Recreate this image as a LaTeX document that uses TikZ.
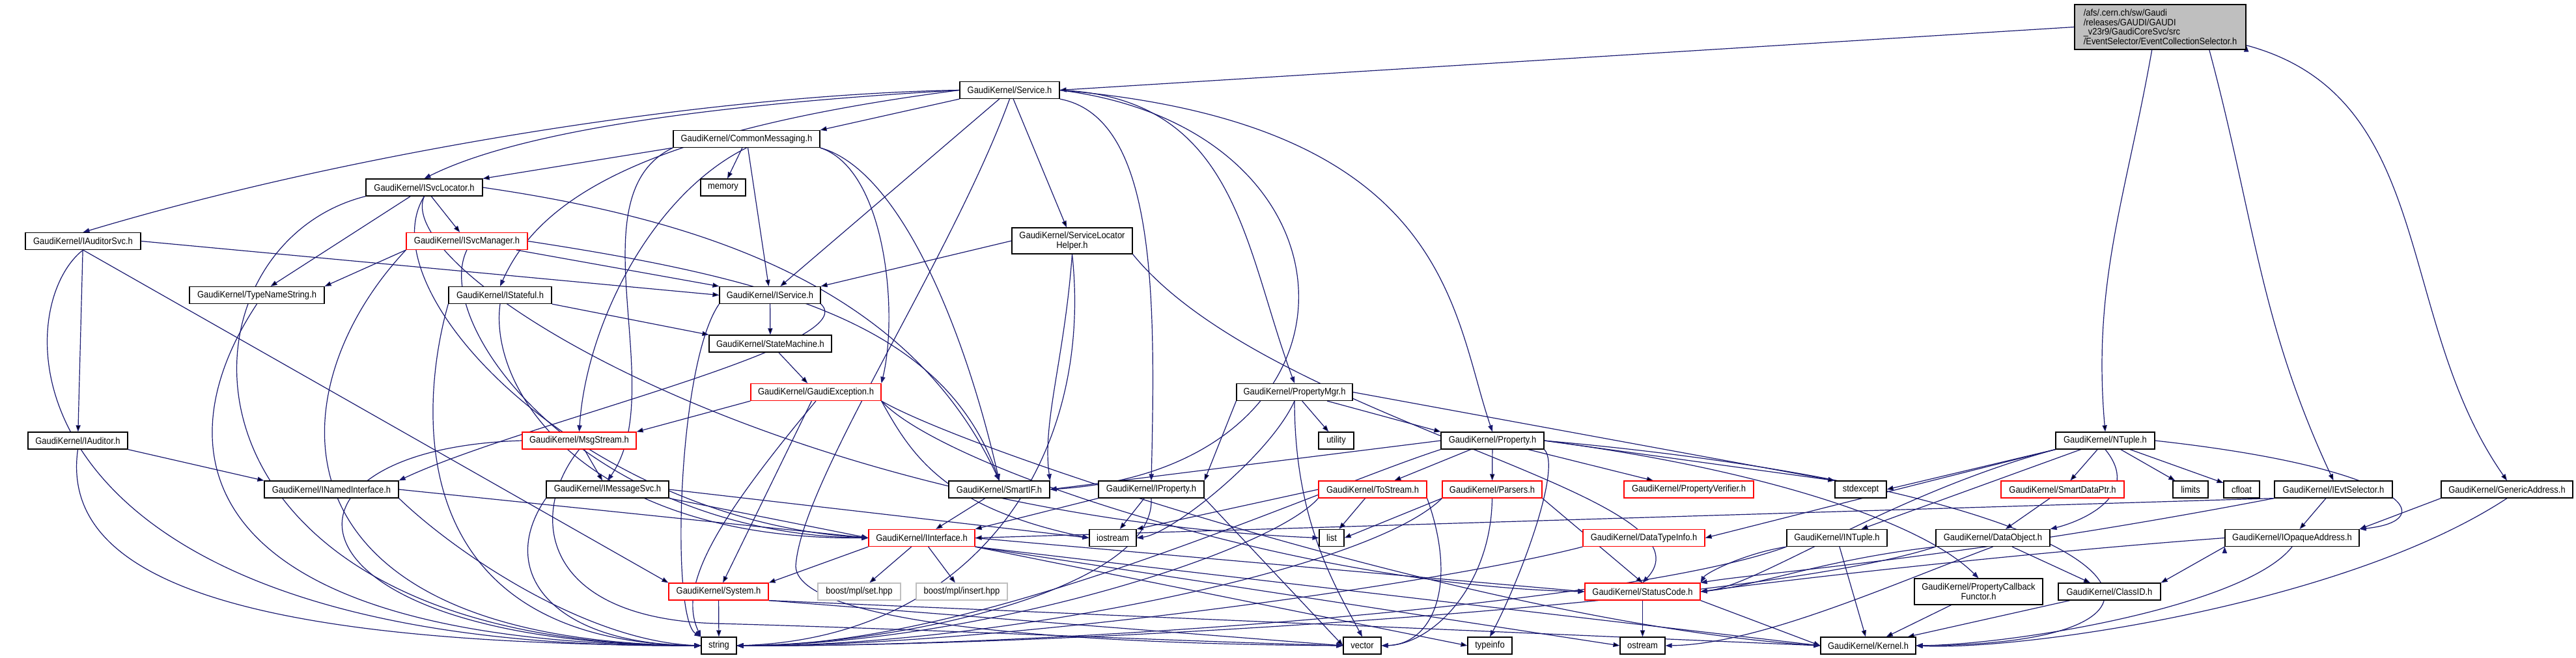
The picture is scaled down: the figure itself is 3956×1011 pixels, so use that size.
\documentclass[tikz,border=0pt]{standalone}
\usepackage{fontspec}
\usepackage{xcolor}
\usepackage{tikz}
\usetikzlibrary{arrows.meta}
\newfontfamily\gkfont[FakeStretch=0.9]{Liberation Sans}
\definecolor{edgeblue}{HTML}{191970}
\definecolor{truncred}{HTML}{FF0000}
\definecolor{bggray}{HTML}{BFBFBF}
\pgfdeclarelayer{edges}
\pgfsetlayers{edges,main}

\begin{document}
\begin{tikzpicture}[x=0.5pt, y=-0.5pt,
    file/.style={draw=black, line width=0.6pt, fill=white, font=\gkfont\fontsize{7.2}{7.35}\selectfont,
      minimum height=13pt, inner sep=1pt, minimum width=#1*0.5pt},
    file/.default=60,
    trunc/.style={file=#1, draw=truncred},
    ext/.style={file=#1, draw=bggray},
    mainfile/.style={file=#1, fill=bggray, align=left, minimum height=34.5pt},
    twoline/.style={file=#1, align=center, minimum height=20pt},
    dep/.style={draw=edgeblue, line width=0.6pt, -{Triangle[length=5pt,width=3.6pt]}}]
\useasboundingbox (0,0) rectangle (3956,1011);

% the file and its includes
\node[mainfile=263] (main) at (3317.5,41.5) {/afs/.cern.ch/sw/Gaudi\\/releases/GAUDI/GAUDI\\\_v23r9/GaudiCoreSvc/src\\/EventSelector/EventCollectionSelector.h};
\node[file=153] (svc) at (1550.5,138.5) {GaudiKernel/Service.h};
\node[file=225] (commsg) at (1146.5,213.5) {GaudiKernel/CommonMessaging.h};
\node[file=179] (isvcloc) at (651.5,288) {GaudiKernel/ISvcLocator.h};
\node[file=69] (memory) at (1110.5,288) {memory};
\node[file=177] (iaudsvc) at (127.5,370.5) {GaudiKernel/IAuditorSvc.h};
\node[trunc=186] (isvcmgr) at (717,370.5) {GaudiKernel/ISvcManager.h};
\node[twoline=185] (slh) at (1646.5,370) {GaudiKernel/ServiceLocator\\Helper.h};
\node[file=207] (typename) at (394.5,453.5) {GaudiKernel/TypeNameString.h};
\node[file=158] (istateful) at (768,453.5) {GaudiKernel/IStateful.h};
\node[file=155] (iservice) at (1182.5,453.5) {GaudiKernel/IService.h};
\node[file=188] (statemach) at (1183,528) {GaudiKernel/StateMachine.h};
\node[trunc=200] (gaudiexc) at (1253,602.5) {GaudiKernel/GaudiException.h};
\node[file=178] (propmgr) at (1988,602.5) {GaudiKernel/PropertyMgr.h};
\node[file=153] (iauditor) at (119.5,677) {GaudiKernel/IAuditor.h};
\node[trunc=175] (msgstream) at (889.5,677) {GaudiKernel/MsgStream.h};
\node[file=54] (utility) at (2052,677) {utility};
\node[file=158] (property) at (2292,677) {GaudiKernel/Property.h};
\node[file=152] (ntuple) at (3233,677) {GaudiKernel/NTuple.h};
\node[file=206] (inamed) at (509,752) {GaudiKernel/INamedInterface.h};
\node[file=188] (imsgsvc) at (933,752) {GaudiKernel/IMessageSvc.h};
\node[file=155] (smartif) at (1534.5,752) {GaudiKernel/SmartIF.h};
\node[file=162] (iprop) at (1768,752) {GaudiKernel/IProperty.h};
\node[trunc=166] (tostream) at (2108,752) {GaudiKernel/ToStream.h};
\node[trunc=153] (parsers) at (2291.5,752) {GaudiKernel/Parsers.h};
\node[trunc=199] (propverif) at (2593.5,752) {GaudiKernel/PropertyVerifier.h};
\node[file=79] (stdexcept) at (2857.5,752) {stdexcept};
\node[trunc=189] (smartdptr) at (3167.5,752) {GaudiKernel/SmartDataPtr.h};
\node[file=54] (limits) at (3364,752) {limits};
\node[file=55] (cfloat) at (3442.5,752) {cfloat};
\node[file=181] (ievtsel) at (3583.5,752) {GaudiKernel/IEvtSelector.h};
\node[file=202] (genaddr) at (3850,752) {GaudiKernel/GenericAddress.h};
\node[trunc=163] (iintf) at (1415.5,826.5) {GaudiKernel/IInterface.h};
\node[file=72] (iostream) at (1709,826.5) {iostream};
\node[file=38] (list) at (2045,826.5) {list};
\node[trunc=187] (dtinfo) at (2524.5,826.5) {GaudiKernel/DataTypeInfo.h};
\node[file=154] (intuple) at (2821,826.5) {GaudiKernel/INTuple.h};
\node[file=175] (dataobj) at (3060.5,826.5) {GaudiKernel/DataObject.h};
\node[file=206] (iopaque) at (3520,826.5) {GaudiKernel/IOpaqueAddress.h};
\node[trunc=153] (system) at (1103.5,909) {GaudiKernel/System.h};
\node[ext=127] (mplset) at (1319.5,909) {boost/mpl/set.hpp};
\node[ext=140] (mplinsert) at (1477,909) {boost/mpl/insert.hpp};
\node[trunc=177] (statcode) at (2522.5,909) {GaudiKernel/StatusCode.h};
\node[twoline=197] (propcb) at (3038.5,909) {GaudiKernel/PropertyCallback\\Functor.h};
\node[file=157] (classid) at (3239.5,909) {GaudiKernel/ClassID.h};
\node[file=54] (string) at (1104,992) {string};
\node[file=58] (vector) at (2092,992) {vector};
\node[file=68] (typeinfo) at (2288,992) {typeinfo};
\node[file=69] (ostream) at (2522.5,992) {ostream};
\node[file=146] (kernel) at (2869,992) {GaudiKernel/Kernel.h};

\begin{pgfonlayer}{edges}
% straight includes
\path[dep]
  (main.west) edge (svc.east)
  (svc.south west) edge (commsg.north east)
  (svc) edge (iservice)
  (svc) edge (slh)
  (commsg.south west) edge (isvcloc.north east)
  (commsg) edge (memory)
  (commsg) edge (iservice)
  (isvcloc) edge (isvcmgr)
  (isvcloc) edge (typename)
  (isvcmgr.south west) edge (typename.north east)
  (isvcmgr) edge (iservice.north west)
  (iaudsvc.east) edge (iservice.west)
  (iaudsvc) edge (iauditor)
  (iaudsvc.south) edge (system.north west)
  (iauditor.south east) edge (inamed.north west)
  (inamed.east) edge (iintf.west)
  (istateful.south east) edge (statemach.north west)
  (iservice) edge (statemach)
  (statemach) edge (gaudiexc)
  (gaudiexc.south west) edge (msgstream.north east)
  (gaudiexc) edge (system)
  (msgstream) edge (imsgsvc)
  (imsgsvc.south east) edge (iintf.west)
  (imsgsvc.east) edge (iostream.west)
  (slh.west) edge (iservice.north east)
  (smartif) edge (iintf)
  (iprop.south west) edge (iintf.north east)
  (iprop) edge (iostream)
  (iprop.south east) edge (vector.west)
  (propmgr.south west) edge (iprop.north east)
  (propmgr) edge (utility)
  (propmgr) edge (property.north west)
  (propmgr.east) edge (stdexcept.north west)
  (property) edge (tostream)
  (property) edge (parsers)
  (property) edge (propverif)
  (property.east) edge (stdexcept.north west)
  (property.west) edge (smartif.east)
  (tostream) edge (list)
  (tostream.west) edge (iostream.north east)
  (parsers.south west) edge (list.east)
  (parsers.south east) edge (statcode.north)
  (statcode) edge (ostream)
  (statcode.south east) edge (kernel.west)
  (iintf.south west) edge (system.north east)
  (iintf) edge (mplset)
  (iintf) edge (mplinsert)
  (iintf.south east) edge (typeinfo.west)
  (iintf.east) edge (statcode.west)
  (iintf.south east) edge (ostream.west)
  (iintf.south east) edge (kernel.west)
  (system) edge (string)
  (system.south east) edge (vector.west)
  (system.south east) edge (kernel.west)
  (ntuple.south west) edge (stdexcept.east)
  (ntuple) edge (smartdptr)
  (ntuple) edge (intuple)
  (ntuple.south west) edge (dtinfo.east)
  (ntuple) edge (limits)
  (ntuple) edge (cfloat)
  (smartdptr) edge (dataobj)
  (dataobj) edge (classid)
  (intuple) edge (kernel)
  (propcb) edge (kernel)
  (classid) edge (kernel)
  (ievtsel) edge (iopaque)
  (ievtsel.south west) edge (iintf.east)
  (genaddr.south west) edge (iopaque.north east)
  (iopaque.south west) edge (classid.north east);

% bent includes
\path[dep]
  (main.250) edge[out=-100,in=95] (ntuple.north)
  (main.-25) edge[out=-75,in=115] (ievtsel.north)
  (main.-12) edge[out=-15,in=125] (genaddr.north);
\draw[dep] (svc.west) .. controls (1100,145) and (550,230) .. (iaudsvc.north);
\draw[dep] (svc.west) .. controls (1100,160) and (800,200) .. (isvcloc.north);
\draw[dep] (svc.west) .. controls (1000,200) and (830,300) .. (istateful.north);
\draw[dep] (svc.south east) .. controls (1775,180) and (1775,450) .. (iprop.north);
\draw[dep] (svc.east) .. controls (1900,150) and (1910,380) .. (propmgr.north);
\draw[dep] (svc.east) .. controls (2229,190) and (2229,480) .. (property.north);
\draw[dep] (svc.east) .. controls (2115,200) and (2120,720) .. (smartif.east);
\draw[dep] (svc.south) .. controls (1460,400) and (1230,740) .. (1222,870) .. controls (1225,965) and (1700,990) .. (vector.west);
\draw[dep] (commsg.south) .. controls (1000,300) and (900,500) .. (msgstream.north);
\draw[dep] (commsg.south west) .. controls (880,300) and (1030,600) .. (imsgsvc.north);
\draw[dep] (commsg.south east) .. controls (1380,260) and (1480,500) .. (smartif.north);
\draw[dep] (commsg.south east) .. controls (1360,260) and (1380,480) .. (gaudiexc.north east);
\draw[dep] (isvcloc.south) .. controls (560,450) and (900,800) .. (iintf.west);
\draw[dep] (isvcloc.south) .. controls (600,420) and (1200,790) .. (list.west);
\draw[dep] (isvcloc.east) .. controls (1100,340) and (1400,450) .. (smartif.north);
\draw[dep] (isvcmgr.east) .. controls (1200,430) and (1450,500) .. (smartif.north);
\draw[dep] (isvcmgr.south) .. controls (660,500) and (900,820) .. (iintf.west);
\draw[dep] (istateful.south) .. controls (750,600) and (900,830) .. (iintf.west);
\draw[dep] (iservice.south east) .. controls (1330,530) and (800,650) .. (inamed.north east);
\draw[dep] (msgstream.south) .. controls (810,790) and (830,950) .. (1100,958) .. controls (1400,966) and (1800,985) .. (vector.west);
\draw[dep] (gaudiexc.south east) .. controls (1400,700) and (1450,780) .. (iostream.west);
\draw[dep] (gaudiexc.south east) .. controls (1450,720) and (2000,900) .. (statcode.west);
\draw[dep] (gaudiexc.south east) .. controls (1500,700) and (2300,960) .. (kernel.west);
\draw[dep] (propmgr.south) .. controls (1950,700) and (1800,820) .. (iostream.east);
\draw[dep] (propmgr.south) .. controls (1988,800) and (2050,900) .. (vector.north);
\draw[dep] (property.south east) .. controls (2400,720) and (2330,900) .. (typeinfo.north);
\draw[dep] (property.east) .. controls (2700,720) and (2950,800) .. (propcb.north);
\draw[dep] (property.east) .. controls (3300,760) and (3450,990) .. (kernel.east);
\draw[dep] (tostream.south east) .. controls (2240,900) and (2200,990) .. (vector.east);
\draw[dep] (parsers.south) .. controls (2290,900) and (2200,990) .. (vector.east);
\draw[dep] (ntuple.south west) .. controls (2900,760) and (2700,900) .. (statcode.east);
\draw[dep] (ntuple.south) .. controls (3290,760) and (3200,800) .. (dataobj.north east);
\draw[dep] (ntuple.east) .. controls (3700,720) and (3750,800) .. (iopaque.north east);
\draw[dep] (intuple.south west) .. controls (2680,850) and (2620,880) .. (statcode.north east);
\draw[dep] (dataobj.south west) .. controls (2800,860) and (2700,900) .. (statcode.east);
\draw[dep] (dataobj.south) .. controls (2900,900) and (2700,990) .. (ostream.east);
\draw[dep] (ievtsel.south west) .. controls (3000,860) and (2700,880) .. (statcode.north east);
\draw[dep] (iopaque.west) .. controls (3100,850) and (2750,890) .. (statcode.east);
\draw[dep] (iopaque.south) .. controls (3450,930) and (3100,990) .. (kernel.east);
\draw[dep] (genaddr.south) .. controls (3600,930) and (3100,1000) .. (kernel.east);
\draw[dep] (slh.south) .. controls (1635,550) and (1600,650) .. (smartif.north east);
\draw[dep] (slh.south east) .. controls (1950,650) and (2650,760) .. (statcode.north);

% everything that ends in string
\draw[dep] (iaudsvc.south) .. controls (5,480) and (0,1000) .. (string.west);
\draw[dep] (iauditor.south) .. controls (90,900) and (400,990) .. (string.west);
\draw[dep] (isvcloc.south west) .. controls (250,380) and (230,990) .. (string.west);
\draw[dep] (typename.south) .. controls (240,700) and (300,990) .. (string.west);
\draw[dep] (isvcmgr.south west) .. controls (420,600) and (400,985) .. (string.west);
\draw[dep] (istateful.south west) .. controls (650,600) and (600,985) .. (string.west);
\draw[dep] (inamed.south east) .. controls (700,850) and (900,985) .. (string.west);
\draw[dep] (msgstream.west) .. controls (380,690) and (420,990) .. (string.west);
\draw[dep] (imsgsvc.south west) .. controls (760,880) and (850,990) .. (string.west);
\draw[dep] (iservice.south west) .. controls (1040,560) and (1030,950) .. (string.north west);
\draw[dep] (gaudiexc.south) .. controls (1100,800) and (1040,900) .. (string.north west);
\draw[dep] (slh.south) .. controls (1680,700) and (1500,980) .. (string.east);
\draw[dep] (iprop.south) .. controls (1775,900) and (1400,990) .. (string.east);
\draw[dep] (property.south west) .. controls (2000,760) and (1500,995) .. (string.east);
\draw[dep] (tostream.south west) .. controls (1950,850) and (1500,990) .. (string.east);
\draw[dep] (parsers.south west) .. controls (2100,880) and (1500,995) .. (string.east);
\draw[dep] (dtinfo.south west) .. controls (2200,900) and (1500,995) .. (string.east);
\draw[dep] (intuple.south west) .. controls (2500,930) and (1600,995) .. (string.east);
\draw[dep] (dataobj.south west) .. controls (2700,930) and (1600,995) .. (string.east);
\end{pgfonlayer}
\end{tikzpicture}
\end{document}
